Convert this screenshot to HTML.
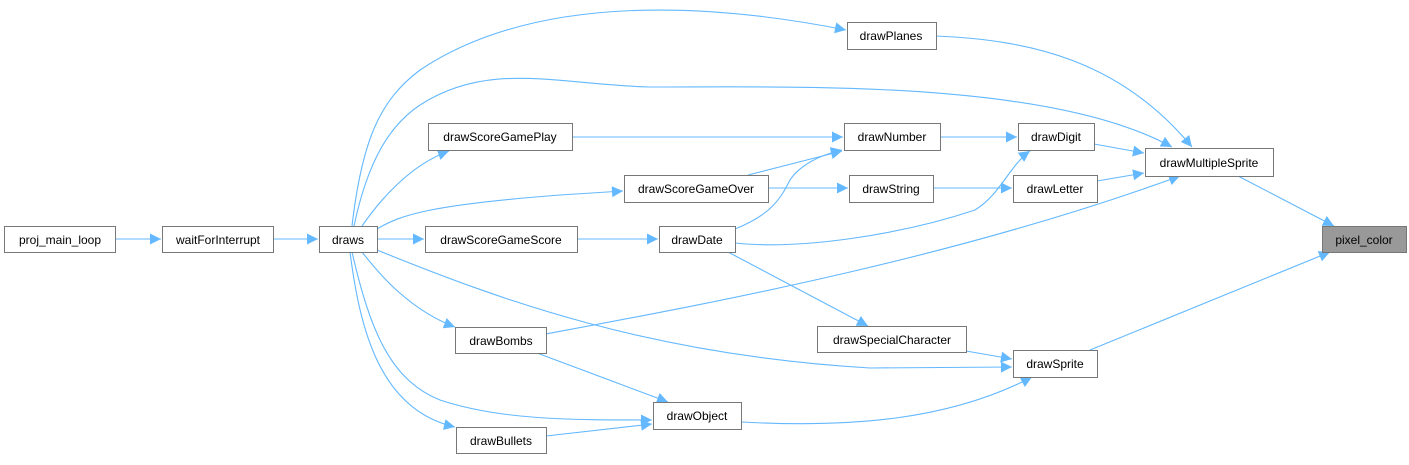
<!DOCTYPE html>
<html><head><meta charset="utf-8"><style>
body{margin:0;background:#fff;width:1409px;height:460px;overflow:hidden}
svg text{font-family:"Liberation Sans",sans-serif;font-size:12px;fill:#000}
</style></head><body>
<svg width="1409" height="460" viewBox="0 0 1409 460" xmlns="http://www.w3.org/2000/svg">
<defs><marker id="a" viewBox="0 0 10 10" refX="10" refY="5" markerWidth="13" markerHeight="11" markerUnits="userSpaceOnUse" orient="auto"><path d="M0,0 L10,5 L0,10z" fill="#63b8ff"/></marker></defs>
<g fill="none" stroke="#63b8ff" stroke-width="1.1" marker-end="url(#a)">
<path d="M115,239 L161,239"/>
<path d="M273,239 L318,239"/>
<path d="M377,239 L424,239"/>
<path d="M577,239 L658,239"/>
<path d="M352,226 C362,140 380,100 420,70 C540,-10 720,5 846,30"/>
<path d="M354,226 C368,160 390,125 420,105 C490,60 560,85 650,87 C800,87 1050,80 1172,147"/>
<path d="M936,36 C1030,40 1120,60 1192,147"/>
<path d="M362,226 C380,200 410,165 449,151"/>
<path d="M572,137 L843,137"/>
<path d="M377,229 C400,215 430,205 560,195 L623,191"/>
<path d="M768,188 L848,188"/>
<path d="M748,175 L842,151"/>
<path d="M735,229 C770,215 780,200 790,180 C800,165 820,155 842,150"/>
<path d="M735,243 C800,250 900,235 975,210 C1000,195 1010,165 1030,151"/>
<path d="M940,137 L1017,137"/>
<path d="M933,188 L1012,188"/>
<path d="M1094,144 L1144,153"/>
<path d="M1097,181 L1144,173"/>
<path d="M1238,176 L1334,226"/>
<path d="M1090,350 L1330,252"/>
<path d="M546,334 C700,305 950,260 1180,176"/>
<path d="M377,250 C500,300 650,355 870,368 L1012,367"/>
<path d="M728,252 L868,326"/>
<path d="M966,351 L1012,359"/>
<path d="M741,422 C850,428 950,420 1032,377"/>
<path d="M362,252 C380,275 410,310 455,327"/>
<path d="M352,252 C370,330 390,380 440,400 C500,420 570,420 652,420"/>
<path d="M350,252 C360,330 380,410 455,427"/>
<path d="M537,353 L668,402"/>
<path d="M546,436 L652,424"/>
</g>
<g stroke="#777" stroke-width="1" fill="#fff">
<rect x="4.5" y="226.5" width="111" height="26"/>
<rect x="162.5" y="226.5" width="111" height="26"/>
<rect x="319.5" y="226.5" width="58" height="26"/>
<rect x="428.5" y="123.5" width="144" height="27"/>
<rect x="624.5" y="175.5" width="144" height="27"/>
<rect x="425.5" y="226.5" width="152" height="26"/>
<rect x="455.5" y="327.5" width="91" height="26"/>
<rect x="456.5" y="427.5" width="90" height="26"/>
<rect x="653.5" y="402.5" width="88" height="27"/>
<rect x="659.5" y="226.5" width="76" height="26"/>
<rect x="817.5" y="326.5" width="149" height="26"/>
<rect x="1013.5" y="350.5" width="84" height="27"/>
<rect x="849.5" y="175.5" width="84" height="27"/>
<rect x="844.5" y="123.5" width="96" height="27"/>
<rect x="1018.5" y="123.5" width="76" height="27"/>
<rect x="1013.5" y="175.5" width="84" height="27"/>
<rect x="847.5" y="22.5" width="89" height="27"/>
<rect x="1145.5" y="148.5" width="128" height="28"/>
<rect x="1322.5" y="226.5" width="84" height="26" fill="#999"/>
</g>
<g text-anchor="middle">
<text x="60" y="244">proj_main_loop</text>
<text x="218" y="244">waitForInterrupt</text>
<text x="348" y="244">draws</text>
<text x="500" y="141">drawScoreGamePlay</text>
<text x="696" y="193">drawScoreGameOver</text>
<text x="501" y="244">drawScoreGameScore</text>
<text x="501" y="345">drawBombs</text>
<text x="501" y="445">drawBullets</text>
<text x="697" y="420">drawObject</text>
<text x="697" y="244">drawDate</text>
<text x="892" y="344">drawSpecialCharacter</text>
<text x="1055" y="368">drawSprite</text>
<text x="891" y="193">drawString</text>
<text x="892" y="141">drawNumber</text>
<text x="1056" y="141">drawDigit</text>
<text x="1055" y="193">drawLetter</text>
<text x="891" y="40">drawPlanes</text>
<text x="1209" y="167">drawMultipleSprite</text>
<text x="1364" y="244">pixel_color</text>
</g>
</svg>
</body></html>
